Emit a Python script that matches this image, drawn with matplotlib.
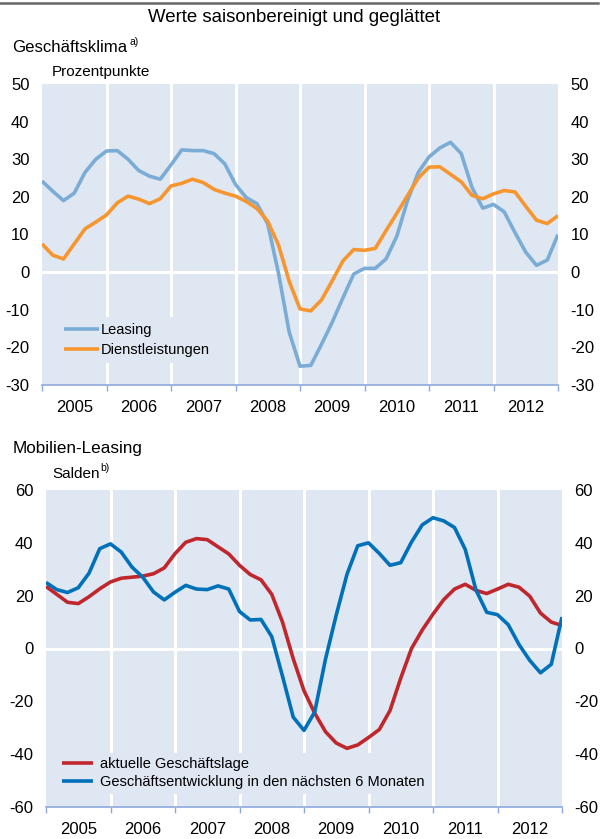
import numpy as np
import matplotlib.pyplot as plt
from matplotlib.lines import Line2D

plt.rcParams['font.family'] = ['Liberation Sans', 'DejaVu Sans']
plt.rcParams['axes.unicode_minus'] = False

W, H = 603, 839

years = list(range(2005, 2013))
# readings every second month, Jan 2005 .. Jan 2013
months = np.arange(0, 97, 2)
t = 2005 + months / 12

leasing = [24.2, 21.5, 19.0, 21.0, 26.5, 30.0, 32.2, 32.3, 30.0, 27.0,
           25.5, 24.7, 28.5, 32.5, 32.3, 32.3, 31.5, 28.8, 23.3, 19.8,
           18.2, 12.8, -0.3, -16.0, -25.0, -24.8, -19.2, -13.3, -6.8, -0.5,
           1.0, 1.0, 3.5, 9.5, 19.0, 26.5, 30.6, 33.0, 34.5, 31.5,
           22.5, 17.0, 18.0, 16.0, 10.5, 5.3, 1.8, 3.2, 10.0]
dienstleistungen = [7.5, 4.5, 3.5, 7.5, 11.5, 13.3, 15.2, 18.4, 20.2, 19.4,
                    18.2, 19.5, 22.9, 23.6, 24.7, 23.8, 22.0, 21.0, 20.2, 18.8,
                    16.9, 13.5, 7.2, -2.5, -9.8, -10.3, -7.4, -2.3, 3.0, 6.0,
                    5.8, 6.3, 11.0, 15.6, 20.3, 25.0, 27.9, 28.0, 26.0, 24.0,
                    20.4, 19.5, 20.8, 21.7, 21.3, 17.5, 13.8, 12.9, 15.0]

lage = [23.5, 20.5, 17.5, 17.0, 19.6, 22.6, 25.2, 26.6, 27.0, 27.4,
        28.3, 30.5, 35.9, 40.2, 41.6, 41.2, 38.5, 35.8, 31.5, 28.0,
        26.0, 20.5, 10.0, -3.9, -16.0, -24.5, -31.5, -35.8, -37.8, -36.5,
        -33.7, -30.7, -23.5, -11.2, 0.0, 7.0, 13.0, 18.5, 22.5, 24.3,
        22.0, 20.8, 22.5, 24.3, 23.2, 19.8, 13.4, 10.0, 8.7]
entwicklung = [25.0, 22.3, 21.2, 23.0, 28.5, 37.8, 39.6, 36.5, 30.8, 27.0,
               21.4, 18.4, 21.3, 23.9, 22.5, 22.3, 23.7, 22.5, 14.0, 10.8,
               11.0, 4.5, -10.5, -26.0, -31.0, -24.0, -4.0, 12.7, 28.1, 38.9,
               40.0, 36.0, 31.5, 32.5, 40.3, 46.8, 49.5, 48.3, 45.8, 37.5,
               22.1, 13.7, 12.8, 9.0, 1.5, -4.5, -9.2, -6.0, 11.9]

bg = '#dfe7f3'
axc = '#8eaadb'
c_leas = '#7bacd6'
c_dl = '#f7962f'
c_lage = '#c0272d'
c_entw = '#0071b9'


def fx(x):
    return x / W


def fy(y):
    return 1 - y / H


def setup(ax, ylim, yticks):
    ax.set_facecolor(bg)
    ax.set_xlim(2005, 2013)
    ax.set_ylim(*ylim)
    for s in ['top', 'left', 'right']:
        ax.spines[s].set_visible(False)
    ax.spines['bottom'].set_color(axc)
    ax.spines['bottom'].set_linewidth(1.2)
    ax.set_xticks(range(2005, 2014))
    ax.set_xticklabels([])
    ax.set_xticks([y + 0.5 for y in years], minor=True)
    ax.set_xticklabels([str(y) for y in years], minor=True)
    ax.tick_params(axis='x', which='major', direction='out', length=4, color=axc, width=1)
    ax.tick_params(axis='x', which='minor', length=0, labelsize=12, pad=11)
    ax.set_yticks(yticks)
    ax.tick_params(axis='y', length=0, labelsize=12, labelleft=True, labelright=True, pad=9)
    for yr in range(2006, 2013):
        ax.axvline(yr, color='white', lw=2.2, zorder=1)
    ax.axhline(0, color='white', lw=2.2, zorder=1)


def line(ax, y, c, lab):
    ax.plot(t, y, color=c, lw=2.6, zorder=3, label=lab,
            solid_joinstyle='round', solid_capstyle='butt')


fig = plt.figure(figsize=(W / 100, H / 100), dpi=100)

# top panel
ax1 = fig.add_axes([fx(42), fy(385), fx(516), 301 / H])
setup(ax1, (-30, 50), range(-30, 51, 10))
line(ax1, leasing, c_leas, 'Leasing')
line(ax1, dienstleistungen, c_dl, 'Dienstleistungen')
ax1.legend(loc='upper left', bbox_to_anchor=(fx(58), fy(317)), bbox_transform=fig.transFigure,
           fontsize=10.5, frameon=True, facecolor=bg, edgecolor='none', fancybox=False,
           framealpha=1, borderaxespad=0, borderpad=0.4, handlelength=2.4,
           handletextpad=0.15, labelspacing=0.45)

# bottom panel
ax2 = fig.add_axes([fx(46), fy(807), fx(516), 317 / H])
setup(ax2, (-60, 60), range(-60, 61, 20))
line(ax2, lage, c_lage, 'aktuelle Geschäftslage')
line(ax2, entwicklung, c_entw, 'Geschäftsentwicklung in den nächsten 6 Monaten')
ax2.legend(loc='upper left', bbox_to_anchor=(fx(58), fy(753)), bbox_transform=fig.transFigure,
           fontsize=10.5, frameon=True, facecolor=bg, edgecolor='none', fancybox=False,
           framealpha=1, borderaxespad=0, borderpad=0.3, handlelength=2.1,
           handletextpad=0.5, labelspacing=0.26)

# texts
fig.add_artist(Line2D([0, fx(598)], [fy(2.5), fy(2.5)], color='#666666', lw=1.8,
                      transform=fig.transFigure))
fig.text(fx(294), fy(18), 'Werte saisonbereinigt und geglättet', ha='center', va='center',
         fontsize=13.4)
fig.text(fx(12), fy(47), 'Geschäftsklima', ha='left', va='center', fontsize=12.1)
fig.text(fx(129), fy(42), 'a)', ha='left', va='center', fontsize=7.5)
fig.text(fx(52), fy(72), 'Prozentpunkte', ha='left', va='center', fontsize=11)
fig.text(fx(13), fy(448), 'Mobilien-Leasing', ha='left', va='center', fontsize=12.3)
fig.text(fx(52), fy(474), 'Salden', ha='left', va='center', fontsize=11)
fig.text(fx(100), fy(468), 'b)', ha='left', va='center', fontsize=7.5)

fig.savefig('out.png', dpi=100)
